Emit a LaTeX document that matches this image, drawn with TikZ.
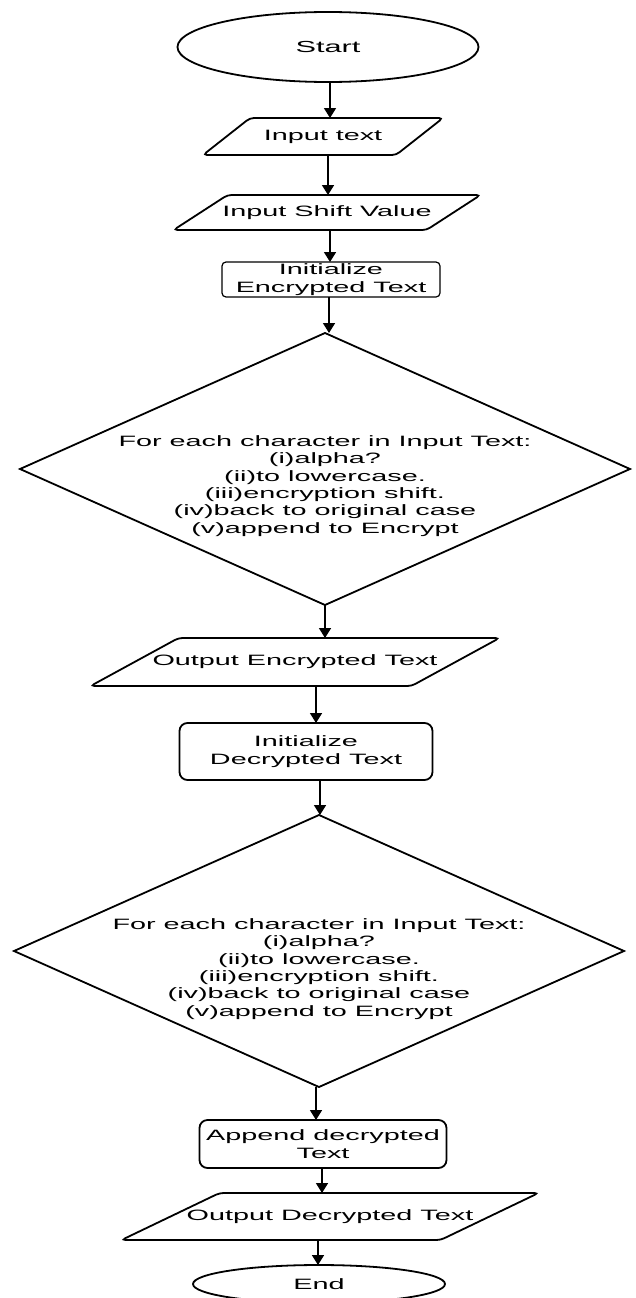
\documentclass[tikz,border=0pt]{standalone}
\usepackage{fontspec}
\setmainfont{Liberation Sans}[FakeStretch=1.92]
\usetikzlibrary{shapes, positioning, calc, arrows.meta}

\begin{document}
\begin{tikzpicture}[x=1pt, y=-1pt]
  \newcommand\flowlinewidth{1.8pt} % outline of every shape
  \newcommand\decisionwidth{610pt}
  \newcommand\decisionheight{272pt}

  \tikzset{generalshape/.style={draw, line width=\flowlinewidth, inner sep=0pt, outer sep=0pt, align=center, font=\fontsize{15}{17.5}\selectfont}}
  \tikzset{terminal/.style={generalshape, ellipse}}
  \tikzset{process/.style={generalshape, rectangle, rounded corners=8pt}}
  \tikzset{iotext/.style={generalshape, draw=none}}
  \tikzset{decision/.style={generalshape, diamond, minimum width=\decisionwidth, minimum height=\decisionheight}}
  \tikzset{decisiontext/.style={align=center, inner sep=0pt, font=\fontsize{15}{17.3}\selectfont}}
  \tikzset{flow/.style={line width=1.6pt, -{Triangle[width=12pt, length=10pt]}}}

  \path[use as bounding box, fill=white] (0,0) rectangle (635,1298);

  \node[terminal, minimum width=301pt, minimum height=70pt, font=\fontsize{16}{19}\selectfont] at (328,47) (start) {Start};
  \node[iotext, minimum width=193pt, minimum height=37pt, below=36pt of start, xshift=-5pt] (intext) {Input text};
  \node[iotext, minimum width=253pt, minimum height=35pt, below=40pt of intext, xshift=4pt] (inshift) {Input Shift Value};
  \node[process, minimum width=218pt, minimum height=35pt, below=32pt of inshift, xshift=4pt, rounded corners=4pt, line width=1.2pt] (initenc) {Initialize\\Encrypted Text};
  \node[decision, below=36pt of initenc, xshift=-6pt] (encloop) {};
  \node[decisiontext] at ([yshift=-17pt]encloop.center) (encloopText) {For each character in Input Text:\\(i)alpha?\\(ii)to lowercase.\\(iii)encryption shift.\\(iv)back to original case\\(v)append to Encrypt};
  \node[iotext, minimum width=321pt, minimum height=48pt, below=33pt of encloop, xshift=-30pt] (outenc) {Output Encrypted Text};
  \node[process, minimum width=253pt, minimum height=57pt, below=37pt of outenc, xshift=11pt] (initdec) {Initialize\\Decrypted Text};
  \node[decision, below=35pt of initdec, xshift=13pt] (decloop) {};
  \node[decisiontext] at ([yshift=-18pt]decloop.center) (decloopText) {For each character in Input Text:\\(i)alpha?\\(ii)to lowercase.\\(iii)encryption shift.\\(iv)back to original case\\(v)append to Encrypt};
  \node[process, minimum width=247pt, minimum height=48pt, below=33pt of decloop, xshift=4pt] (appdec) {Append decrypted\\Text};
  \node[iotext, minimum width=319pt, minimum height=47pt, below=25pt of appdec, xshift=7pt] (outdec) {Output Decrypted Text};
  \node[terminal, minimum width=252pt, minimum height=38pt, below=25pt of outdec, xshift=-11pt] (stop) {End};

  \foreach \io/\slant in {intext/23.5, inshift/27, outenc/44, outdec/49}{
    \draw[line width=\flowlinewidth, rounded corners=4pt] ([xshift=-\slant pt]\io.south west) -- ([xshift=\slant pt]\io.north west) -- ([xshift=\slant pt]\io.north east) -- ([xshift=-\slant pt]\io.south east) -- cycle;
  }

  \foreach \from/\to/\dx in {start/intext/2, intext/inshift/5, inshift/initenc/3, initenc/encloop/-2, encloop/outenc/0, outenc/initdec/21, initdec/decloop/14, decloop/appdec/-3, appdec/outdec/-1, outdec/stop/-12}
    \draw[flow] ($(\from.south)+(\dx,0)$) -- ($(\from.south |- \to.north)+(\dx,0)$);
\end{tikzpicture}
\end{document}
